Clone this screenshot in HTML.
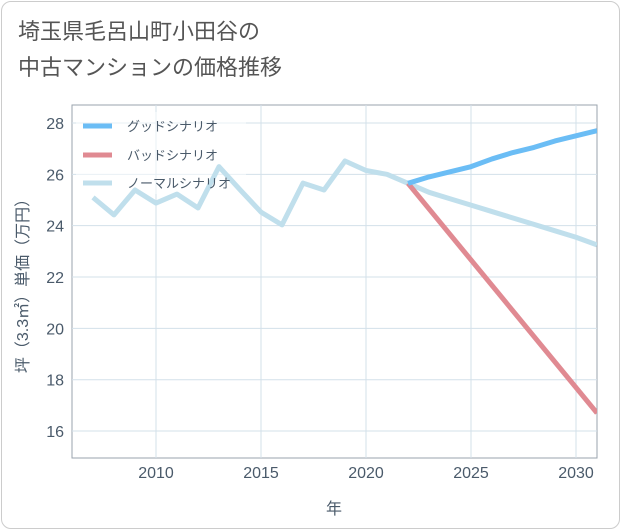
<!DOCTYPE html>
<html><head><meta charset="utf-8"><style>
body{margin:0;background:#fff;font-family:"Liberation Sans","Noto Sans CJK JP",sans-serif}
#wrap{position:relative;width:621px;height:530px}
#frame{position:absolute;left:1px;top:1px;width:617px;height:526px;border:1px solid #ccc;border-radius:10px}
#title{position:absolute;left:18px;top:14px;font-size:22px;line-height:36px;color:#555}
</style></head><body>
<div id="wrap">
<div id="frame"></div>
<div id="title">埼玉県毛呂山町小田谷の<br>中古マンションの価格推移</div>
<svg id="svg" width="621" height="530" style="position:absolute;left:0;top:0"></svg>
</div>
<script>
const normalYears=[2007,2008,2009,2010,2011,2012,2013,2014,2015,2016,2017,2018,2019,2020,2021,2022,2023,2024,2025,2026,2027,2028,2029,2030,2031];
const normalVals=[25.1,24.42,25.39,24.88,25.23,24.69,26.3,25.4,24.53,24.03,25.66,25.39,26.52,26.15,26.0,25.65,25.3,25.05,24.8,24.55,24.3,24.05,23.8,23.55,23.25];
const goodYears=[2022,2023,2024,2025,2026,2027,2028,2029,2030,2031];
const goodVals=[25.65,25.9,26.1,26.3,26.6,26.85,27.05,27.3,27.5,27.7];
const badYears=[2022,2031];
const badVals=[25.65,16.7];
const xTicks=[2010,2015,2020,2025,2030];
const yTicks=[16,18,20,22,24,26,28];
const L=72,R=597,T=105,B=458;
const x=v=>156+(v-2010)*21;
const y=v=>123+(28-v)*25.67;
const svg=document.getElementById('svg');const NS='http://www.w3.org/2000/svg';
function mk(t,a,txt){const e=document.createElementNS(NS,t);for(const k in a)e.setAttribute(k,a[k]);if(txt!=null)e.textContent=txt;svg.appendChild(e);return e;}
const bg=mk('rect',{x:L,y:T,width:R-L,height:B-T,fill:'#fff',stroke:'#9aa3ad','stroke-width':1});


xTicks.forEach(t=>{const g=mk('line',{x1:x(t),x2:x(t),y1:T,y2:B,stroke:'#d3e0ea'});


const l=mk('text',{x:x(t),y:478,'text-anchor':'middle','font-size':16,fill:'#4a5a6a'},t);

});
yTicks.forEach(t=>{const g=mk('line',{x1:L,x2:R,y1:y(t),y2:y(t),stroke:'#d3e0ea'});


const l=mk('text',{x:64,y:y(t)+6,'text-anchor':'end','font-size':16,fill:'#4a5a6a'},t);

});
const xt=mk('text',{x:334,y:514,'text-anchor':'middle','font-size':16,fill:'#4a5a6a'},'年');


const yt=mk('text',{transform:'translate(28,282) rotate(-90)','text-anchor':'middle','font-size':16,fill:'#4a5a6a'},'坪（3.3㎡）単価（万円）');


const lg=mk('rect',{x:76,y:112,width:170,height:82,fill:'rgba(255,255,255,0.5)'});


function line(xs,vs,c,name){const p=mk('polyline',{points:xs.map((t,i)=>x(t)+','+y(vs[i])).join(' '),fill:'none',stroke:c,'stroke-width':5,'stroke-linejoin':'round'});

}
const cp=mk('clipPath',{id:'c'});const cr=document.createElementNS(NS,'rect');cr.setAttribute('x',L);cr.setAttribute('y',T);cr.setAttribute('width',R-L);cr.setAttribute('height',B-T);cp.appendChild(cr);
line(normalYears,normalVals,'#c0dfec','normal-scenario-line');
line(badYears,badVals,'#e08a92','bad-scenario-line');
line(goodYears,goodVals,'#6bbdf5','good-scenario-line');
svg.querySelectorAll('polyline').forEach(p=>p.setAttribute('clip-path','url(#c)'));
[['グッドシナリオ','#6bbdf5',126],['バッドシナリオ','#e08a92',155],['ノーマルシナリオ','#c0dfec',183]].forEach(([n,c,yy])=>{
const s=mk('line',{x1:83,x2:112,y1:yy,y2:yy,stroke:c,'stroke-width':5});


const t=mk('text',{x:127,y:yy+5,'font-size':13,fill:'#4a5a6a'},n);

});
</script>
</body></html>
